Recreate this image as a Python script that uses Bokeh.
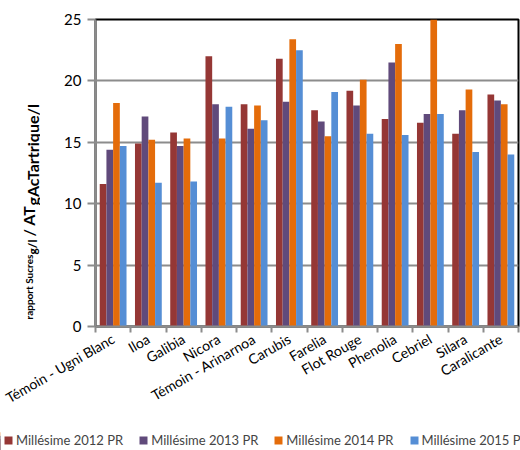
import math
from bokeh.plotting import figure
from bokeh.layouts import column, row
from bokeh.models import Range1d, FixedTicker, Legend, LegendItem
from bokeh.core.properties import value
from bokeh.embed import file_html
from bokeh.resources import INLINE

# Cépages / témoins
cepages = ["Témoin - Ugni Blanc", "Iloa", "Galibia", "Nicora",
           "Témoin - Arinarnoa", "Carubis", "Farelia", "Flot Rouge",
           "Phenolia", "Cebriel", "Silara", "Caralicante"]

# Rapport sucres / acidité totale par millésime
mill_2012 = [11.6, 14.9, 15.8, 22.0, 18.1, 21.8, 17.6, 19.2, 16.9, 16.6, 15.7, 18.9]
mill_2013 = [14.4, 17.1, 14.7, 18.1, 16.1, 18.3, 16.7, 18.0, 21.5, 17.3, 17.6, 18.4]
mill_2014 = [18.2, 15.2, 15.3, 15.3, 18.0, 23.4, 15.5, 20.1, 23.0, 25.0, 19.3, 18.1]
mill_2015 = [14.7, 11.7, 11.8, 17.9, 16.8, 22.5, 19.1, 15.7, 15.6, 17.3, 14.2, 14.0]

series_names = ["Millésime 2012 PR", "Millésime 2013 PR",
                "Millésime 2014 PR", "Millésime 2015 PR"]
series_values = [mill_2012, mill_2013, mill_2014, mill_2015]
y_ticks = [0, 5, 10, 15, 20, 25]

colors = ["#953735", "#604A7B", "#E46C0A", "#558ED5"]
FONT = "Lato"
GRID = "#8c8c8c"

W = 520
TOP_H = 425      # chart height; the legend strip sits below it
TITLE_W = 40     # strip holding the y-axis title, underneath the chart's left border
FRAME_TOP, FRAME_BOTTOM = 19, 326

# ---- y-axis title with subscripts ----
# In a row, this strip's frame is aligned with the chart's frame, so it
# shares the 0..25 vertical scale; pieces are placed on that scale.
t = figure(width=TITLE_W, height=TOP_H, output_backend="svg",
           toolbar_location=None, x_axis_location=None, y_axis_location=None,
           x_range=Range1d(0, TITLE_W), y_range=Range1d(0, 25),
           min_border=0, outline_line_color=None,
           margin=(0, -TITLE_W, 0, 0))
t.grid.visible = False
px_per_unit = (FRAME_BOTTOM - FRAME_TOP) / 25.0

# (text, start pixel from top, baseline column, size)
pieces = [("rapport Sucres", 319, 28, "10px"),
          ("g/l", 254, 32, "12px"),
          ("/ AT", 236, 28, "16px"),
          ("gAcTartrique/l", 205, 32, "16px")]
for txt, py, px, size in pieces:
    t.text(x=[px], y=[(FRAME_BOTTOM - py) / px_per_unit], text=[txt],
           angle=math.pi / 2, text_font=value(FONT), text_font_style="bold",
           text_font_size=size, text_color="black",
           text_align="left", text_baseline="alphabetic")

# ---- main chart (transparent border so the title strip shows through) ----
p = figure(width=W, height=TOP_H, output_backend="svg",
           toolbar_location=None,
           x_range=Range1d(0, len(cepages)), y_range=Range1d(0, 25),
           min_border_left=95, min_border_right=2,
           min_border_top=FRAME_TOP, min_border_bottom=TOP_H - FRAME_BOTTOM,
           border_fill_color=None)
p.outline_line_color = "black"
p.outline_line_width = 2

bar_w = 0.19
for k, (vals, col) in enumerate(zip(series_values, colors)):
    offset = (k - 1.5) * bar_w
    xs = [i + 0.5 + offset for i in range(len(cepages))]
    p.vbar(x=xs, top=vals, width=bar_w, bottom=0, fill_color=col,
           line_color=None)

p.xaxis.ticker = FixedTicker(ticks=[i + 0.5 for i in range(len(cepages))],
                             minor_ticks=list(range(len(cepages) + 1)))
p.xaxis.major_label_overrides = {i + 0.5: name for i, name in enumerate(cepages)}
p.xaxis.major_label_orientation = math.pi / 6
p.xaxis.major_tick_line_color = None
p.xaxis.minor_tick_line_color = GRID
p.xaxis.minor_tick_line_width = 2
p.xaxis.minor_tick_in = 0
p.xaxis.minor_tick_out = 6
p.xaxis.major_label_standoff = 5
p.xaxis.major_label_text_font = FONT
p.xaxis.major_label_text_font_size = "14px"
p.xaxis.major_label_text_color = "black"

p.yaxis.ticker = FixedTicker(ticks=y_ticks)
p.yaxis.major_tick_in = 0
p.yaxis.major_tick_out = 8
p.yaxis.major_tick_line_color = GRID
p.yaxis.major_tick_line_width = 2
p.yaxis.minor_tick_line_color = None
p.yaxis.major_label_standoff = 6
p.yaxis.major_label_text_font = FONT
p.yaxis.major_label_text_font_size = "15px"
p.yaxis.major_label_text_color = "black"

for ax in (p.xaxis, p.yaxis):
    ax.axis_line_color = GRID
    ax.axis_line_width = 2

p.xgrid.grid_line_color = None
p.ygrid.grid_line_color = GRID
p.ygrid.grid_line_width = 2
p.ygrid.ticker = FixedTicker(ticks=y_ticks)

# ---- legend strip ----
LEG_H = 450 - TOP_H
lg = figure(width=W, height=LEG_H, output_backend="svg",
            toolbar_location=None, x_axis_location=None, y_axis_location=None,
            x_range=Range1d(0, W), y_range=Range1d(0, LEG_H),
            min_border=0, outline_line_color=None)
lg.grid.visible = False
# one swatch bar per series, kept outside the visible range
swatches = [lg.vbar(x=[-100], top=[vals[0]], width=1, fill_color=c,
                    line_color=None)
            for vals, c in zip(series_values, colors)]
legend = Legend(items=[LegendItem(label=n, renderers=[r])
                       for n, r in zip(series_names, swatches)],
                orientation="horizontal", location=(3, 2),
                label_text_font=FONT, label_text_font_size="13px",
                label_height=14, glyph_width=10, glyph_height=10,
                label_standoff=3, spacing=15, padding=0, margin=0,
                border_line_color=None, background_fill_alpha=0)
lg.add_layout(legend, "center")

layout = column(row(t, p), lg)
open("out.html", "w").write(file_html(layout, INLINE))
